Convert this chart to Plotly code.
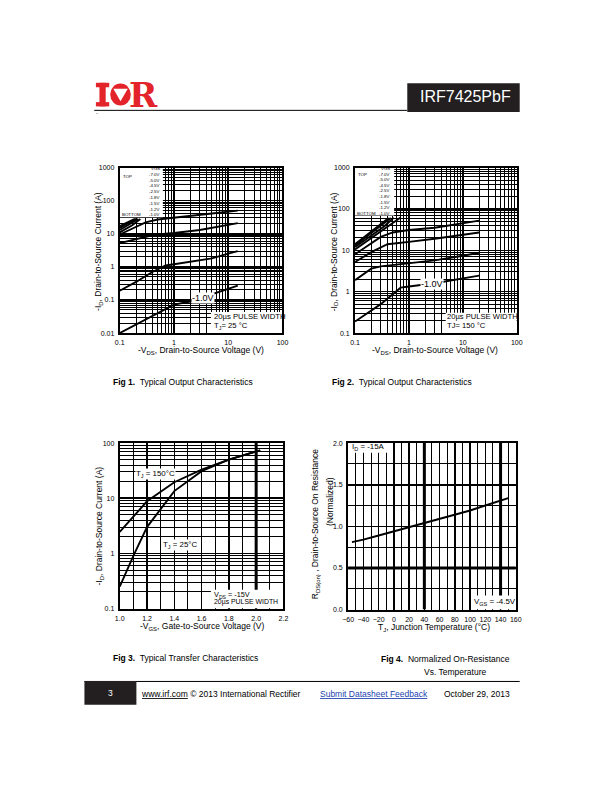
import plotly.graph_objects as go

W, H = 612, 792
FONT = "Liberation Sans, Arial, sans-serif"


def px(x):
    return x / W


def py(y):
    return 1 - y / H


# ---------------- Fig 1 : Typical Output Characteristics, TJ = 25 C (-VDS [V], -ID [A]) ----------------
f1_vds_70 = [0.1, 0.15, 0.19]
f1_id_70 = [17, 23, 28]
f1_vds_50 = [0.1, 0.15, 0.2]
f1_id_50 = [15, 21, 28]
f1_vds_45 = [0.1, 0.16, 0.22]
f1_id_45 = [13, 20, 28]
f1_vds_25 = [0.1, 0.17, 0.24]
f1_id_25 = [11, 18, 28]
f1_vds_18 = [0.1, 0.15, 0.2, 0.3, 0.5, 1, 2, 5, 15]
f1_id_18 = [9.5, 13, 17, 22, 27, 31, 35, 41, 50]
f1_vds_15 = [0.1, 0.2, 0.4, 0.7, 1, 3, 7, 15]
f1_id_15 = [5.2, 7, 9, 10, 10.5, 13, 17, 21]
f1_vds_12 = [0.1, 0.2, 0.4, 0.7, 1, 2, 5, 10, 15]
f1_id_12 = [0.19, 0.35, 0.7, 1.1, 1.2, 1.4, 1.8, 2.5, 3.0]
f1_vds_10 = [0.1, 0.2, 0.5, 1, 2, 4, 8, 15]
f1_id_10 = [0.01, 0.018, 0.04, 0.072, 0.09, 0.13, 0.19, 0.27]

# ---------------- Fig 2 : Typical Output Characteristics, TJ = 150 C ----------------
f2_vds_70 = [0.1, 0.2, 0.3, 0.42]
f2_id_70 = [14, 28, 42, 60]
f2_vds_50 = [0.1, 0.2, 0.3, 0.46]
f2_id_50 = [13, 26, 38, 60]
f2_vds_45 = [0.1, 0.2, 0.35, 0.52]
f2_id_45 = [12, 23, 38, 61]
f2_vds_25 = [0.1, 0.2, 0.4, 0.7]
f2_id_25 = [10.5, 20, 38, 62]
f2_vds_18 = [0.1, 0.2, 0.3, 0.5, 0.8, 1, 3, 10, 20]
f2_id_18 = [8, 15, 21, 27, 30, 31, 35, 44, 52]
f2_vds_15 = [0.1, 0.2, 0.4, 0.7, 1, 3, 10, 20]
f2_id_15 = [5.2, 9, 14, 15.5, 16, 19, 24, 27]
f2_vds_12 = [0.1, 0.2, 0.3, 0.5, 1, 3, 10, 20]
f2_id_12 = [1.9, 3.6, 4.1, 4.4, 4.8, 5.7, 7.4, 8.7]
f2_vds_10 = [0.1, 0.3, 0.7, 0.85, 1, 3, 10, 20]
f2_id_10 = [0.19, 0.5, 1.25, 1.3, 1.33, 1.6, 2.1, 2.45]

# ---------------- Fig 3 : Typical Transfer Characteristics ----------------
f3_vgs_150 = [1.0, 1.2, 1.4, 1.6, 1.8, 2.03]
f3_id_150 = [2.45, 8.8, 19.5, 33, 50, 74]
f3_vgs_25 = [1.0, 1.1, 1.2, 1.4, 1.6, 1.8, 2.03]
f3_id_25 = [0.25, 0.9, 3.0, 13.5, 31, 50, 74]

# ---------------- Fig 4 : Normalized On-Resistance vs Temperature ----------------
f4_tj = [-55, -40, -20, 0, 20, 40, 60, 80, 100, 120, 150]
f4_rds = [0.81, 0.84, 0.89, 0.94, 0.99, 1.04, 1.09, 1.14, 1.19, 1.25, 1.34]

vgs_legend = ["-7.0V", "-5.0V", "-4.5V", "-2.5V", "-1.8V", "-1.5V", "-1.2V", "-1.0V"]

fig1_curves = [(f1_vds_70, f1_id_70), (f1_vds_50, f1_id_50), (f1_vds_45, f1_id_45),
               (f1_vds_25, f1_id_25), (f1_vds_18, f1_id_18), (f1_vds_15, f1_id_15),
               (f1_vds_12, f1_id_12), (f1_vds_10, f1_id_10)]
fig2_curves = [(f2_vds_70, f2_id_70), (f2_vds_50, f2_id_50), (f2_vds_45, f2_id_45),
               (f2_vds_25, f2_id_25), (f2_vds_18, f2_id_18), (f2_vds_15, f2_id_15),
               (f2_vds_12, f2_id_12), (f2_vds_10, f2_id_10)]

fig = go.Figure()
LW = 1.9
for (xs, ys), name in zip(fig1_curves, vgs_legend):
    fig.add_trace(go.Scatter(x=xs, y=ys, mode="lines", name=name, line=dict(color="black", width=LW),
                             xaxis="x", yaxis="y", showlegend=False, hoverinfo="skip"))
for (xs, ys), name in zip(fig2_curves, vgs_legend):
    fig.add_trace(go.Scatter(x=xs, y=ys, mode="lines", name=name, line=dict(color="black", width=LW),
                             xaxis="x2", yaxis="y2", showlegend=False, hoverinfo="skip"))
fig.add_trace(go.Scatter(x=f3_vgs_150, y=f3_id_150, mode="lines", line=dict(color="black", width=LW),
                         xaxis="x3", yaxis="y3", showlegend=False, hoverinfo="skip"))
fig.add_trace(go.Scatter(x=f3_vgs_25, y=f3_id_25, mode="lines", line=dict(color="black", width=LW),
                         xaxis="x3", yaxis="y3", showlegend=False, hoverinfo="skip"))
fig.add_trace(go.Scatter(x=f4_tj, y=f4_rds, mode="lines", line=dict(color="black", width=LW),
                         xaxis="x4", yaxis="y4", showlegend=False, hoverinfo="skip"))

log_minor = [m * 10 ** e for e in range(-3, 4) for m in range(2, 10)]
TICKFONT = dict(family=FONT, size=7, color="black")


def minor_grid(**kw):
    d = dict(showgrid=True, gridcolor="black", gridwidth=1, ticks="", ticklen=0)
    d.update(kw)
    return d


def base_axis(domain, anchor):
    return dict(domain=domain, anchor=anchor, showline=True, mirror=True, linecolor="black",
                linewidth=2, showgrid=True, gridcolor="black", gridwidth=1.6, ticks="", ticklen=0,
                ticklabelstandoff=2, tickfont=TICKFONT, zeroline=False, fixedrange=True)


def log_axis(domain, anchor, lo, hi, labels):
    a = base_axis(domain, anchor)
    vals = [10 ** e for e in range(lo, hi + 1)]
    a.update(type="log", range=[lo, hi], tickmode="array", tickvals=vals, ticktext=labels,
             minor=minor_grid(tickmode="array", tickvals=log_minor))
    return a


f1x = [px(116), px(282)]
f2x = [px(356), px(521)]
fy_top = [py(332), py(165)]
f3x = [px(116), px(283)]
f3y = [py(610), py(443)]
f4x = [px(349), px(520)]
f4y = [py(611), py(443)]

xa1 = log_axis(f1x, "y", -1, 2, ["0.1", "1", "10", "100"])
ya1 = log_axis(fy_top, "x", -2, 3, ["0.01", "0.1", "1", "10", "100", "1000"])
xa2 = log_axis(f2x, "y2", -1, 2, ["0.1", "1", "10", "100"])
ya2 = log_axis(fy_top, "x2", -1, 3, ["0.1", "1", "10", "100", "1000"])
xa3 = base_axis(f3x, "y3")
xa3.update(range=[1.0, 2.2], dtick=0.2, tick0=1.0, tickformat=".1f", minor=minor_grid(dtick=0.1))
ya3 = log_axis(f3y, "x3", -1, 2, ["0.1", "1", "10", "100"])
xa4 = base_axis(f4x, "y4")
xa4.update(range=[-60, 160], dtick=20, tick0=-60, minor=minor_grid(dtick=10))
ya4 = base_axis(f4y, "x4")
ya4.update(range=[0, 2.0], dtick=0.5, tick0=0, tickformat=".1f", minor=minor_grid(dtick=0.25))

shapes = []


def white_box(xr, yr, x0, x1, y0, y1):
    shapes.append(dict(type="rect", xref=xr, yref=yr, x0=x0, x1=x1, y0=y0, y1=y1,
                       fillcolor="white", line=dict(width=0), layer="between"))


def thick_line(xr, yr, x0, x1, y0, y1):
    shapes.append(dict(type="line", xref=xr, yref=yr, x0=x0, x1=x1, y0=y0, y1=y1,
                       line=dict(color="black", width=3), layer="between"))


# heavier grid lines seen in the reference
thick_line("x3", "y3", 2.0, 2.0, 0.1, 100)
thick_line("x4", "y4", 40, 40, 0, 2)
thick_line("x4", "y4", 140, 140, 0, 2)
thick_line("x4", "y4", -60, 160, 0.5, 0.5)

# white label areas (hide the grid)
white_box("x", "y", 0.1, 0.624, 31.6, 1000)
white_box("x", "y", 4.8, 100, 0.01, 0.043)
white_box("x2", "y2", 0.1, 0.532, 69, 1000)
white_box("x2", "y2", 4.8, 100, 0.1, 0.308)
white_box("x3", "y3", 1.668, 2.2, 0.1, 0.22)
white_box("x4", "y4", -60, -5, 1.885, 2.0)
white_box("x4", "y4", 102, 160, 0, 0.17)

RED = "#E3242B"
# header: logo
shapes += [
    dict(type="rect", xref="paper", yref="paper", x0=px(91.7), x1=px(105.3), y0=py(84), y1=py(79.5),
         fillcolor=RED, line=dict(width=0)),
    dict(type="rect", xref="paper", yref="paper", x0=px(91.7), x1=px(105.3), y0=py(103.3), y1=py(99),
         fillcolor=RED, line=dict(width=0)),
    dict(type="rect", xref="paper", yref="paper", x0=px(95.3), x1=px(101.7), y0=py(103.3), y1=py(79.5),
         fillcolor=RED, line=dict(width=0)),
    dict(type="circle", xref="paper", yref="paper", x0=px(106.3), x1=px(127.3), y0=py(102.5), y1=py(80.3),
         fillcolor=RED, line=dict(width=0)),
    dict(type="path", xref="paper", yref="paper",
         path="M {},{} L {},{} L {},{} Z".format(px(109.5), py(85.5), px(124.2), py(85.5), px(116.8), py(98)),
         fillcolor="white", line=dict(width=0)),
    # header rule and part number box
    dict(type="line", xref="paper", yref="paper", x0=px(90), x1=px(409), y0=py(107.3), y1=py(107.3),
         line=dict(color="black", width=1)),
    dict(type="rect", xref="paper", yref="paper", x0=px(409.3), x1=px(524), y0=py(109), y1=py(80),
         fillcolor="#231F20", line=dict(width=0)),
    # footer
    dict(type="line", xref="paper", yref="paper", x0=px(80), x1=px(524), y0=py(683.5), y1=py(683.5),
         line=dict(color="black", width=1)),
    dict(type="rect", xref="paper", yref="paper", x0=px(80), x1=px(133), y0=py(707), y1=py(683),
         fillcolor="#231F20", line=dict(width=0)),
]

annotations = []


def ann(text, x, y, size, xanchor="center", color="black", angle=0, bg=None, family=FONT):
    d = dict(text=text, x=px(x), y=py(y), xref="paper", yref="paper", showarrow=False,
             xanchor=xanchor, yanchor="middle", textangle=angle,
             font=dict(family=family, size=size, color=color), borderpad=0)
    if bg:
        d["bgcolor"] = bg
    annotations.append(d)


# header texts
ann("<b>R</b>", 140.3, 92.3, 34, color=RED, family="DejaVu Serif")
ann("IRF7425PbF", 469, 93.5, 16, color="white")
ann(".", 93.3, 108, 7)

# Fig 1 legend and labels (evenly stacked VGS list)
LEG = 4.4
f1_top, f1_step = 166.0, 5.84
ann("VGS", 158, f1_top, LEG, xanchor="right")
for k, lab in enumerate(vgs_legend):
    ann(lab, 158, f1_top + (k + 1) * f1_step, LEG, xanchor="right")
ann("TOP", 118, 174.5, LEG, xanchor="left")
ann("BOTTOM", 117, f1_top + 8 * f1_step, LEG, xanchor="left")
ann("-1.0V", 201, 296.7, 9, bg="white")
ann("20µs PULSE WIDTH", 211, 315.7, 7.7, xanchor="left")
ann("T<sub>J</sub>= 25 °C", 211, 324.5, 7.7, xanchor="left")

# Fig 2 legend and labels
f2_top, f2_step = 166.0, 5.65
ann("VGS", 393, f2_top, LEG, xanchor="right")
for k, lab in enumerate(vgs_legend):
    ann(lab, 393, f2_top + (k + 1) * f2_step, LEG, xanchor="right")
ann("TOP", 358, f2_top + f2_step, LEG, xanchor="left")
ann("BOTTOM", 356.5, f2_top + 8 * f2_step, LEG, xanchor="left")
ann("-1.0V", 435, 282, 9, bg="white")
ann("20µs PULSE WIDTH", 449, 315.7, 7.6, xanchor="left")
ann("TJ= 150 °C", 449, 324.5, 7.6, xanchor="left")

# Fig 3 labels
ann("T<sub>J</sub> = 150°C", 131.7, 474, 7.9, xanchor="left", bg="white")
ann("T<sub>J</sub> = 25°C", 159, 545.7, 7.9, xanchor="left", bg="white")
ann("V<sub>DS</sub> = -15V", 211, 596.3, 7.3, xanchor="left")
ann("20µs PULSE WIDTH", 211, 603.8, 6.9, xanchor="left")

# Fig 4 labels
ann("I<sub>D</sub> = -15A", 351.5, 447, 7.9, xanchor="left")
ann("V<sub>GS</sub> = -4.5V", 476.5, 603, 7.9, xanchor="left")

# axis titles
ann("-I<sub>D</sub>, Drain-to-Source Current (A)", 95, 250, 8.5, angle=-90)
ann("-V<sub>DS</sub>, Drain-to-Source Voltage (V)", 199, 349.5, 8.5)
ann("-I<sub>D</sub>, Drain-to-Source Current (A)", 335, 250, 8.5, angle=-90)
ann("-V<sub>DS</sub>, Drain-to-Source Voltage (V)", 438, 349.5, 8.5)
ann("-I<sub>D</sub>, Drain-to-Source Current (A)", 95, 527, 8.5, angle=-90)
ann("-V<sub>GS</sub>, Gate-to-Source Voltage (V)", 200, 628.5, 8.5)
ann("R<sub>DS(on)</sub> , Drain-to-Source On Resistance", 316, 525, 8.5, angle=-90)
ann("(Normalized)", 330, 502, 8.5, angle=-90)
ann("T<sub>J</sub>, Junction Temperature (°C)", 437, 629.5, 8.5)

# captions
ann("<b>Fig 1.</b>  Typical Output Characteristics", 108, 381, 8.5, xanchor="left")
ann("<b>Fig 2.</b>  Typical Output Characteristics", 332, 381, 8.5, xanchor="left")
ann("<b>Fig 3.</b>  Typical Transfer Characteristics", 108, 660, 8.5, xanchor="left")
ann("<b>Fig 4.</b>  Normalized On-Resistance", 448, 661, 8.5)
ann("Vs. Temperature", 458, 673.5, 8.5)

# footer
ann("3", 106.5, 695.5, 8.5, color="white")
ann("<u>www.irf.com</u> © 2013 International Rectifier", 137, 696, 8.5, xanchor="left")
ann("<u>Submit Datasheet Feedback</u>", 319, 696, 8.5, xanchor="left", color="#1B3FB0")
ann("October 29, 2013", 446, 696, 8.5, xanchor="left")

fig.update_layout(
    width=W, height=H, margin=dict(l=0, r=0, t=0, b=0),
    paper_bgcolor="white", plot_bgcolor="white", showlegend=False,
    font=dict(family=FONT, color="black"),
    xaxis=xa1, yaxis=ya1, xaxis2=xa2, yaxis2=ya2,
    xaxis3=xa3, yaxis3=ya3, xaxis4=xa4, yaxis4=ya4,
    shapes=shapes, annotations=annotations,
)

fig.write_html("out.html", config={"displayModeBar": False, "staticPlot": True},
               post_script="document.body.style.margin='0px';")
